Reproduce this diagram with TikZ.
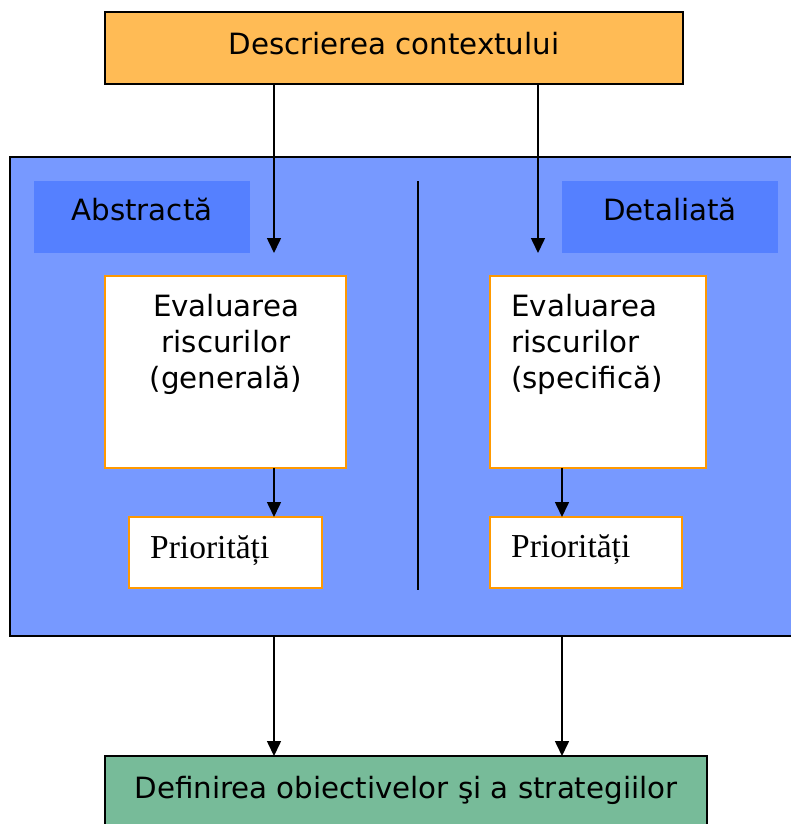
\documentclass[tikz,border=0pt]{standalone}
\usepackage{fontspec}
\setmainfont{DejaVu Sans}
\newfontfamily\prioface{Liberation Serif}
\usetikzlibrary{arrows.meta}

\definecolor{ctxorange}{RGB}{255,187,85}
\definecolor{panelblue}{RGB}{119,153,255}
\definecolor{tagblue}{RGB}{85,128,255}
\definecolor{boxorange}{RGB}{255,153,0}
\definecolor{goalgreen}{RGB}{119,187,153}

\tikzset{
  plain/.style={rectangle, inner sep=0pt, outer sep=0pt},
  ctxbox/.style={plain, draw=black, line width=2pt, fill=ctxorange},
  goalbox/.style={plain, draw=black, line width=2pt, fill=goalgreen},
  panelbox/.style={plain, draw=black, line width=2pt, fill=panelblue},
  tagbox/.style={plain, fill=tagblue},
  evalbox/.style={plain, draw=boxorange, line width=2pt, fill=white},
  label/.style={inner sep=0pt, font=\fontsize{29.3}{36}\selectfont},
  priolabel/.style={inner sep=0pt, font=\prioface\fontsize{33.5}{40}\selectfont},
  flow/.style={line width=1.6pt, -{Triangle[length=15pt,width=14pt]}},
  divider/.style={line width=1.6pt}
}

\begin{document}
\begin{tikzpicture}[x=1pt, y=-1pt]
  \useasboundingbox (0,0) rectangle (791,824);
  \clip (0,0) rectangle (791,824);
  \fill[white] (0,0) rectangle (791,824);

  % top: context description
  \node[ctxbox, minimum width=578pt, minimum height=72pt] (ctx) at (394,48) {};
  \node[label, anchor=base] (ctxtext) at (394,55) {Descrierea contextului};

  % central panel with the two assessment branches
  \node[panelbox, minimum width=790pt, minimum height=479pt] (panel) at (405,396.5) {};
  \node[tagbox, minimum width=216pt, minimum height=72pt] (tagA) at (142,217) {};
  \node[label, anchor=base] (tagAtext) at (142,220) {Abstractă};
  \node[tagbox, minimum width=216pt, minimum height=72pt] (tagD) at (670,217) {};
  \node[label, anchor=base] (tagDtext) at (670,220) {Detaliată};

  \coordinate (divTop) at (418,181);
  \coordinate (divBot) at (418,590);
  \draw[divider] (divTop) -- (divBot);

  % assessment boxes
  \node[evalbox, minimum width=241pt, minimum height=192pt] (evalG) at (225.5,372) {};
  \node[label, anchor=base] (evalG1) at (226,316) {Evaluarea};
  \node[label, anchor=base] (evalG2) at (226,352) {riscurilor};
  \node[label, anchor=base] (evalG3) at (226,388) {(generală)};

  \node[evalbox, minimum width=216pt, minimum height=192pt] (evalS) at (598,372) {};
  \node[label, anchor=base west] (evalS1) at (511,316) {Evaluarea};
  \node[label, anchor=base west] (evalS2) at (511,352) {riscurilor};
  \node[label, anchor=base west] (evalS3) at (511,388) {(specifică)};

  % priorities
  \node[evalbox, minimum width=193pt, minimum height=71pt] (prioG) at (225.5,552.5) {};
  \node[priolabel, anchor=base west] (prioGtext) at (150,558) {Priorități};
  \node[evalbox, minimum width=192pt, minimum height=71pt] (prioS) at (586,552.5) {};
  \node[priolabel, anchor=base west] (prioStext) at (511,557) {Priorități};

  % bottom: objectives and strategies
  \node[goalbox, minimum width=602pt, minimum height=84pt] (goal) at (406,798) {};
  \node[label, anchor=base] (goaltext) at (406,798) {Definirea obiectivelor şi a strategiilor};

  % connectors
  \coordinate (inA) at (274,253);
  \coordinate (inD) at (538,253);
  \draw[flow] (ctx.south -| inA) -- (inA);
  \draw[flow] (ctx.south -| inD) -- (inD);
  \draw[flow] (evalG.south -| inA) -- (prioG.north -| inA);
  \draw[flow] (evalS.south -| tagD.west) -- (prioS.north -| tagD.west);
  \draw[flow] (panel.south -| inA) -- (goal.north -| inA);
  \draw[flow] (panel.south -| tagD.west) -- (goal.north -| tagD.west);
\end{tikzpicture}
\end{document}
